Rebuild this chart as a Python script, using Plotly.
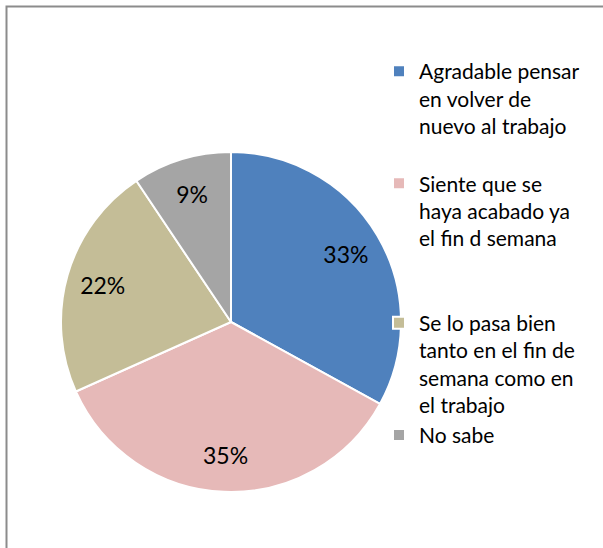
import plotly.graph_objects as go

labels = [
    'Agradable pensar<br>en volver de<br>nuevo al trabajo<br> ',
    'Siente que se<br>haya acabado ya<br>el fin d semana<br> <br> ',
    'Se lo pasa bien<br>tanto en el fin de<br>semana como en<br>el trabajo',
    'No sabe',
]
values = [33, 35.3, 22.3, 9.4]
colors = ['#4F81BD', '#E6B9B8', '#C4BD97', '#A5A5A5']

FONT = 'Lato, Calibri, sans-serif'
dom = dict(x=[61 / 603, 401 / 603], y=[1 - 492 / 548, 1 - 152 / 548])

fig = go.Figure()

# slices + legend
fig.add_trace(go.Pie(
    labels=labels,
    values=values,
    sort=False,
    direction='clockwise',
    rotation=0,
    marker=dict(colors=colors, line=dict(color='white', width=2)),
    textinfo='none',
    domain=dom,
    hoverinfo='percent',
))

# percent labels, sitting out toward the rim like the original
fig.add_trace(go.Pie(
    labels=labels,
    values=values,
    sort=False,
    direction='clockwise',
    rotation=0,
    hole=0.57,
    marker=dict(colors=['rgba(0,0,0,0)'] * 4, line=dict(width=0)),
    texttemplate='%{percent:.0%}',
    textposition='inside',
    insidetextorientation='horizontal',
    textfont=dict(family=FONT, size=23, color='black'),
    domain=dom,
    showlegend=False,
    hoverinfo='skip',
))

fig.update_layout(
    width=603,
    height=548,
    margin=dict(l=0, r=0, t=0, b=0),
    paper_bgcolor='white',
    showlegend=True,
    legend=dict(
        x=379 / 603,
        xanchor='left',
        y=1 - 51 / 548,
        yanchor='top',
        valign='top',
        font=dict(family=FONT, size=21, color='black'),
        bgcolor='rgba(0,0,0,0)',
    ),
    shapes=[
        dict(
            type='rect',
            xref='paper', yref='paper',
            x0=6.5 / 603, x1=1.05, y0=-0.05, y1=1 - 6.5 / 548,
            line=dict(color='#8c8c8c', width=2),
            fillcolor='rgba(0,0,0,0)',
            layer='below',
        )
    ],
)

fig.write_html(
    'out.html',
    config={'displayModeBar': False},
    post_script="document.body.style.margin='0';",
)
